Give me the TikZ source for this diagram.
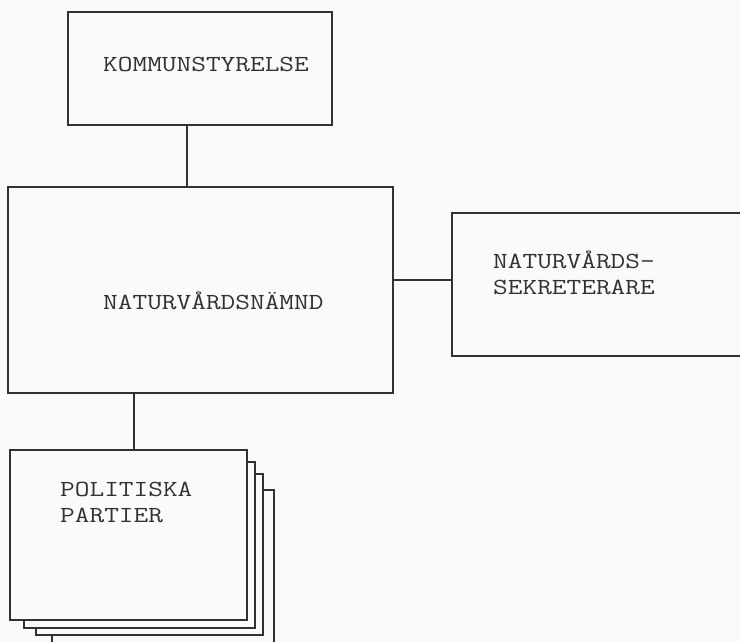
\documentclass[tikz,border=0pt]{standalone}
\usepackage{fontspec}
\newfontfamily\typefont[FakeStretch=1.24]{Latin Modern Mono}
\usepackage{tikz}
\usetikzlibrary{calc, positioning}
\definecolor{paper}{RGB}{250,250,248}
\definecolor{ink}{RGB}{50,50,50}
\newcommand\orgbox[5]{\node[orgbox, minimum width=#4, minimum height=#5] (#1) at (#2,#3) {};}
\newcommand\orglabel[4]{\node[orgtext] (#1) at (#2,#3) {#4};}

\begin{document}
\begin{tikzpicture}[x=1pt, y=1pt,
	orgbox/.style={draw=ink, fill=paper, line width=2.7pt, inner sep=0pt},
	orgtext/.style={anchor=base west, inner sep=0pt, align=left, text=ink,
		font=\typefont\fontsize{23}{26.5}\selectfont},
	conn/.style={draw=ink, line width=2.7pt}]
	\fill[paper] (0,0) rectangle (740,642);
	\useasboundingbox (0,0) rectangle (740,642);
	% boxes
	\orgbox{kommun}{200}{573.5}{264}{113}
	\orgbox{naemnd}{200.5}{352}{385}{206}
	\orgbox{sekr}{606}{357.5}{308}{143}
	\orgbox{partD}{163}{73}{222}{158}
	\orgbox{partC}{149.5}{87.5}{227}{161}
	\orgbox{partB}{139.5}{97}{231}{166}
	\orgbox{partA}{128.5}{107}{237}{170}
	% texts (base = last line)
	\orglabel{kommuntext}{103}{570}{KOMMUNSTYRELSE}
	\orglabel{naemndtext}{103}{332}{NATURVÅRDSNÄMND}
	\orglabel{sekrtext}{493}{347}{NATURVÅRDS-\\SEKRETERARE}
	\orglabel{parttext}{60}{119}{POLITISKA\\PARTIER}
	% connectors
	\draw[conn] ([xshift=-13]kommun.south) -- ([xshift=-13]kommun.south |- naemnd.north);
	\draw[conn] ([yshift=4.5]sekr.west) -- ([yshift=4.5]sekr.west -| naemnd.east);
	\draw[conn] ([xshift=5.5]partA.north) -- ([xshift=5.5]partA.north |- naemnd.south);
\end{tikzpicture}
\end{document}
